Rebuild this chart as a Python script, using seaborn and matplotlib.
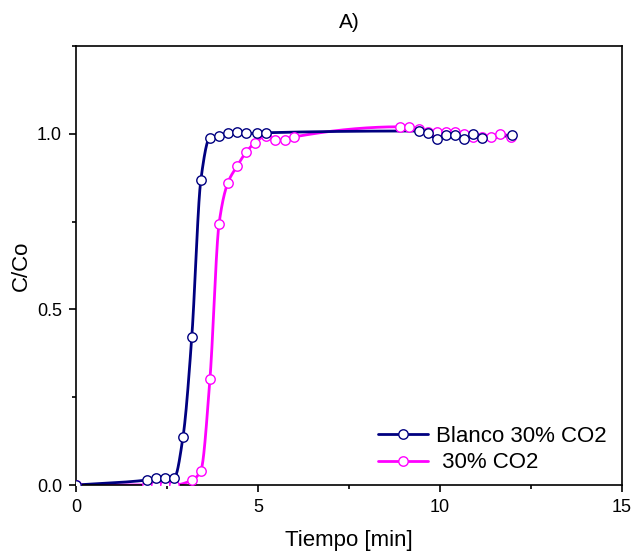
import numpy as np
import pandas as pd
import matplotlib
matplotlib.use("Agg")
import matplotlib.pyplot as plt
from matplotlib.lines import Line2D
from matplotlib.ticker import MultipleLocator, FormatStrFormatter
import seaborn as sns

# ---- data ----
t_blanco = [0, 1.94, 2.20, 2.45, 2.70, 2.94, 3.18, 3.43, 3.67, 3.92, 4.17, 4.42,
            4.67, 4.97, 5.22, 9.42, 9.67, 9.92, 10.16, 10.41, 10.66, 10.91, 11.16, 11.97]
c_blanco = [0, 0.014, 0.019, 0.019, 0.021, 0.137, 0.42, 0.869, 0.988, 0.995, 1.001, 1.004,
            1.001, 1.001, 1.003, 1.008, 1.003, 0.984, 0.998, 0.998, 0.984, 1.0, 0.987, 0.996]

t_co2 = [0, 1.94, 2.20, 2.45, 2.70, 3.19, 3.43, 3.68, 3.93, 4.17, 4.42, 4.67, 4.92,
         5.22, 5.48, 5.73, 5.98, 8.91, 9.16, 9.42, 9.67, 9.92, 10.16, 10.41, 10.66,
         10.91, 11.16, 11.39, 11.65, 11.96]
c_co2 = [0, 0, 0, 0, 0, 0.014, 0.041, 0.302, 0.744, 0.860, 0.907, 0.947, 0.975,
         0.994, 0.982, 0.982, 0.991, 1.020, 1.020, 1.013, 1.006, 1.006, 1.005, 1.004, 0.999,
         0.990, 0.990, 0.991, 1.0, 0.992]

labels = ["Blanco 30% CO2", " 30% CO2"]
colors = ["#000080", "#FF00FF"]
title = "A)"
xlabel = "Tiempo [min]"
ylabel = "C/Co"


def pchip(x, y, xn):
    x = np.asarray(x, float); y = np.asarray(y, float)
    h = np.diff(x); d = np.diff(y) / h
    n = len(x)
    m = np.zeros(n)
    for k in range(1, n - 1):
        if d[k - 1] * d[k] > 0:
            w1 = 2 * h[k] + h[k - 1]; w2 = h[k] + 2 * h[k - 1]
            m[k] = (w1 + w2) / (w1 / d[k - 1] + w2 / d[k])
    m[0] = d[0]; m[-1] = d[-1]
    idx = np.clip(np.searchsorted(x, xn) - 1, 0, n - 2)
    hh = h[idx]; s = (xn - x[idx]) / hh
    h00 = 2 * s**3 - 3 * s**2 + 1; h10 = s**3 - 2 * s**2 + s
    h01 = -2 * s**3 + 3 * s**2; h11 = s**3 - s**2
    return h00 * y[idx] + h10 * hh * m[idx] + h01 * y[idx + 1] + h11 * hh * m[idx + 1]


sns.set_theme(style="ticks")
plt.rcParams['font.family'] = ['Liberation Sans', 'DejaVu Sans']
plt.rcParams['text.color'] = 'black'
plt.rcParams['axes.labelcolor'] = 'black'

fig = plt.figure(figsize=(6.36, 5.59), dpi=100)
ax = fig.add_axes([76 / 636, 1 - 485 / 559, (622 - 76) / 636, (485 - 46) / 559])

series = [(t_co2, c_co2, colors[1]), (t_blanco, c_blanco, colors[0])]
for t, c, col in series:
    tn = np.linspace(min(t), max(t), 1500)
    df_line = pd.DataFrame({"t": tn, "c": pchip(t, c, tn)})
    sns.lineplot(data=df_line, x="t", y="c", color=col, lw=2.0, ax=ax, zorder=2)
    df_pts = pd.DataFrame({"t": t, "c": c})
    sns.scatterplot(data=df_pts, x="t", y="c", marker="o", s=46, facecolor="white",
                    edgecolor=col, linewidth=1.0, ax=ax, zorder=3)

ax.set_xlim(0, 15)
ax.set_ylim(0, 1.25)
ax.xaxis.set_major_locator(MultipleLocator(5))
ax.xaxis.set_minor_locator(MultipleLocator(2.5))
ax.yaxis.set_major_locator(MultipleLocator(0.5))
ax.yaxis.set_minor_locator(MultipleLocator(0.25))
ax.yaxis.set_major_formatter(FormatStrFormatter("%.1f"))
ax.tick_params(which="major", direction="out", length=5, width=1.2, labelsize=13,
               colors="black", top=False, right=False, pad=5)
ax.tick_params(which="minor", direction="out", length=3, width=1.2, colors="black",
               top=False, right=False)
for sp in ax.spines.values():
    sp.set_visible(True)
    sp.set_linewidth(1.2)
    sp.set_color("black")

ax.set_xlabel(xlabel, fontsize=16, labelpad=10, color="black")
ax.set_ylabel(ylabel, fontsize=16, labelpad=4, color="black")
ax.set_title(title, fontsize=15, pad=13, color="black")

handles = [Line2D([0], [0], color=colors[0], lw=2.0, marker="o", markersize=6.8,
                  markerfacecolor="white", markeredgecolor=colors[0]),
           Line2D([0], [0], color=colors[1], lw=2.0, marker="o", markersize=6.8,
                  markerfacecolor="white", markeredgecolor=colors[1])]
ax.legend(handles, labels, loc="center left", frameon=False, fontsize=16,
          handlelength=2.25, handletextpad=0.35, labelspacing=0.25,
          borderpad=0, borderaxespad=0,
          bbox_to_anchor=((378 - 76) / 546, (485 - 449.5) / 439))

fig.savefig("out.png", dpi=100)
